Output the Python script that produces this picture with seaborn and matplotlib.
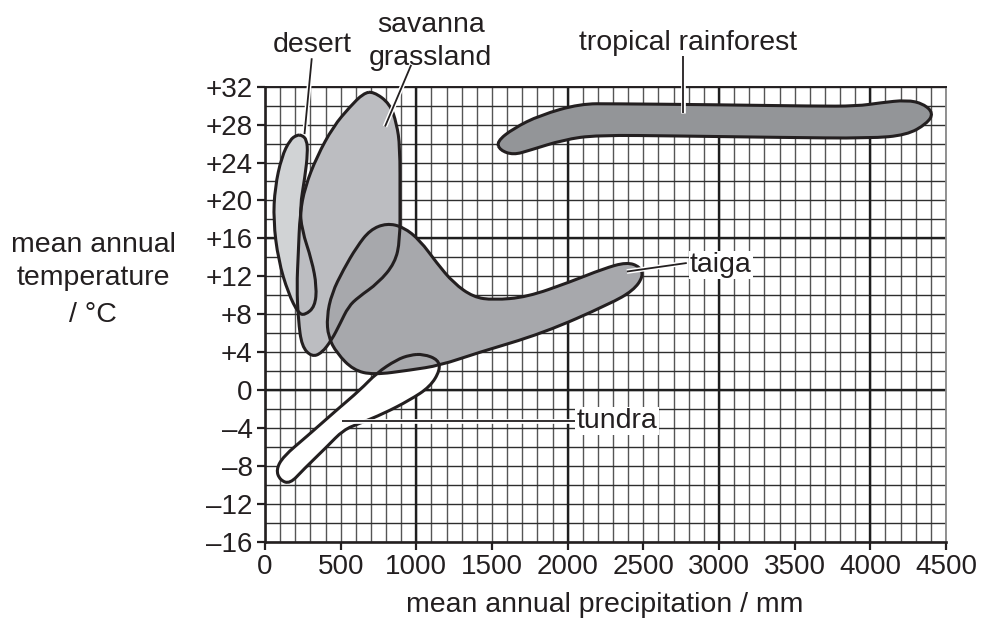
import numpy as np
import matplotlib
matplotlib.use('Agg')
import matplotlib.pyplot as plt
from matplotlib.path import Path
from matplotlib.patches import PathPatch
import seaborn as sns

# outlines of the biome regions (precipitation mm, temperature C)
desert_x = [243, 276, 282, 264, 231, 243, 309, 342, 330, 264, 220, 154, 88, 55, 66, 110, 165, 210]
desert_y = [26.9, 26.4, 25.0, 22.5, 19.3, 16.9, 13.7, 10.9, 8.8, 7.9, 8.1, 10.2, 13.7, 17.9, 21.4, 24.6, 26.4, 26.9]

savanna_x = [716, 826, 870, 892, 892, 892, 859, 749, 617, 551, 496, 441, 375, 309,
             243, 220, 210, 220, 231, 264, 342, 451, 562, 650]
savanna_y = [31.5, 30.2, 28.1, 25.7, 20.0, 15.8, 13.4, 11.3, 9.8, 8.8, 7.0, 5.3, 3.9, 3.5,
             4.6, 7.4, 10.9, 14.4, 18.6, 21.4, 24.6, 27.8, 29.9, 31.3]

taiga_x = [804, 914, 1024, 1135, 1245, 1377, 1509, 1730, 2016, 2236, 2391, 2478, 2500, 2434,
           2280, 1839, 1399, 1157, 958, 716, 584, 474, 418, 408, 441, 518, 606, 694]
taiga_y = [17.6, 17.2, 15.8, 13.4, 11.3, 9.8, 9.5, 9.8, 11.4, 12.8, 13.5, 13.0, 12.0, 10.5,
           9.1, 6.0, 3.9, 2.6, 2.1, 1.6, 2.1, 3.9, 5.6, 7.7, 10.2, 12.7, 15.1, 16.9]

rainforest_x = [1531, 1641, 1818, 2082, 2302, 2963, 3624, 3911, 4065, 4241, 4351, 4417,
                4373, 4241, 3999, 3404, 2743, 2192, 1972, 1751, 1641, 1553]
rainforest_y = [26.2, 27.6, 29.0, 30.2, 30.2, 30.1, 29.95, 29.95, 30.3, 30.6, 30.2, 29.2,
                28.1, 26.9, 26.55, 26.65, 26.8, 26.9, 26.4, 25.3, 24.8, 25.3]

tundra_x = [1046, 1145, 1157, 1091, 958, 782, 628, 518, 408, 253, 165, 99, 73, 121,
            276, 474, 628, 738, 870, 958]
tundra_y = [3.8, 3.2, 2.1, 0.35, -1.05, -2.5, -3.5, -4.2, -6.0, -8.4, -9.9, -9.5, -8.4, -7.0,
            -4.9, -2.1, 0.0, 1.8, 3.2, 3.7]

xticks = [0, 500, 1000, 1500, 2000, 2500, 3000, 3500, 4000, 4500]
yticks = [32, 28, 24, 20, 16, 12, 8, 4, 0, -4, -8, -12, -16]
ytick_labels = ['+32', '+28', '+24', '+20', '+16', '+12', '+8', '+4', '0',
                '\u20134', '\u20138', '\u201312', '\u201316']

sns.set_style('white')
plt.rcParams['font.family'] = ['Liberation Sans', 'DejaVu Sans']

INK = '#231f20'


def smooth_path(xs, ys):
    pts = np.column_stack([xs, ys]).astype(float)
    mids = (pts + np.roll(pts, -1, axis=0)) / 2
    verts = [mids[-1]]
    codes = [Path.MOVETO]
    for i in range(len(pts)):
        verts += [pts[i], mids[i]]
        codes += [Path.CURVE3, Path.CURVE3]
    return Path(verts, codes)


fig = plt.figure(figsize=(9.83, 6.18), dpi=100)
ax = fig.add_axes([265 / 983, 1 - 541.7 / 618, (946 - 265) / 983, (541.7 - 86.7) / 618])
ax.set_xlim(0, 4500)
ax.set_ylim(-16, 32)

# graph paper
ax.set_xticks(np.arange(0, 4501, 100), minor=True)
ax.set_yticks(np.arange(-16, 33, 2), minor=True)
ax.set_xticks(xticks)
ax.set_yticks(yticks)
ax.set_yticklabels(ytick_labels)
ax.xaxis.grid(True, which='both', color='#555555', lw=1.0)
ax.yaxis.grid(True, which='both', color='#2e2e2e', lw=1.0)
for v in [1000, 2000, 3000, 4000]:
    ax.axvline(v, color='#1e1e1e', lw=1.7, zorder=0.6)
for v in [16, 0]:
    ax.axhline(v, color='#1e1e1e', lw=1.7, zorder=0.6)
ax.set_axisbelow(True)

ax.tick_params(which='major', direction='out', length=6, width=1.6, pad=3,
               labelsize=20, color=INK, labelcolor=INK)
ax.tick_params(which='minor', length=0)
ax.tick_params(axis='both', which='both', bottom=True, left=True, top=False, right=False)
for s in ['left', 'bottom']:
    ax.spines[s].set_color(INK)
    ax.spines[s].set_linewidth(1.9)
ax.spines['top'].set_color(INK)
ax.spines['top'].set_linewidth(1.4)
ax.spines['right'].set_color('#888888')
ax.spines['right'].set_linewidth(1.3)

# biome regions: fills first, outlines on top
regions = [
    (tundra_x, tundra_y, '#ffffff'),
    (desert_x, desert_y, '#d1d3d5'),
    (savanna_x, savanna_y, '#bcbdc1'),
    (taiga_x, taiga_y, '#a7a8ac'),
    (rainforest_x, rainforest_y, '#939598'),
]
for i, (xs, ys, col) in enumerate(regions):
    ax.add_patch(PathPatch(smooth_path(xs, ys), facecolor=col, edgecolor='none', zorder=2 + i * 0.1))
for xs, ys, col in regions:
    ax.add_patch(PathPatch(smooth_path(xs, ys), facecolor='none', edgecolor=INK,
                           lw=2.2, zorder=3))

# leader lines
leaders = [
    ([309, 261], [35.0, 27.0]),
    ([966, 793], [34.3, 27.8]),
    ([2765, 2765], [35.2, 29.2]),
    ([2391, 2787], [12.5, 13.4]),
    ([507, 2049], [-3.3, -3.3]),
]
for lx, ly in leaders:
    ax.plot(lx, ly, color='white', lw=3.4, clip_on=False, zorder=4, solid_capstyle='butt')
    ax.plot(lx, ly, color=INK, lw=1.3, clip_on=False, zorder=4.1, solid_capstyle='butt')

txt = dict(fontsize=20.5, color=INK, clip_on=False, zorder=5)
ax.text(309, 35.7, 'desert', ha='center', va='baseline', **txt)
ax.text(1096, 37.8, 'savanna', ha='center', va='baseline', **txt)
ax.text(1096, 34.3, 'grassland', ha='center', va='baseline', **txt)
ax.text(2796, 35.9, 'tropical rainforest', ha='center', va='baseline', **txt)
ax.text(2809, 12.45, 'taiga', ha='left', va='baseline',
        bbox=dict(fc='white', ec='none', pad=1), **txt)
ax.text(2060, -4.0, 'tundra', ha='left', va='baseline',
        bbox=dict(fc='white', ec='none', pad=1), **txt)

fig.text(605 / 983, 1 - 612 / 618, 'mean annual precipitation / mm', ha='center', va='baseline',
         fontsize=20.5, color=INK)
for label, yb in [('mean annual', 251.7), ('temperature', 285), ('/ \u00b0C', 321.7)]:
    fig.text(93 / 983, 1 - yb / 618, label, ha='center', va='baseline', fontsize=20.5, color=INK)

fig.savefig('out.png', dpi=100)
